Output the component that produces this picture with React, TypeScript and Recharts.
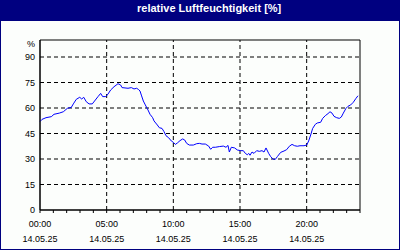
import { LineChart, Line, XAxis, YAxis, ReferenceLine, ReferenceArea } from "recharts";

const title = "relative Luftfeuchtigkeit [%]";
const dateLabel = "14.05.25";

// time of day in hours, relative humidity in %
const hours = [
  0, 0.15, 0.45, 0.85, 1.05, 1.45, 1.75, 2.05, 2.35, 2.5, 2.72, 2.98, 3.13, 3.28, 3.47, 3.68, 3.92,
  4.15, 4.35, 4.55, 4.7, 4.93, 5.1, 5.3, 5.55, 5.85, 6.05, 6.15, 6.6, 6.85, 7.05, 7.25, 7.4, 7.5,
  7.6, 7.75, 7.9, 8.1, 8.25, 8.45, 8.55, 8.8, 8.95, 9.15, 9.3, 9.45, 9.65, 9.85, 10.0, 10.15, 10.3,
  10.5, 10.7, 10.85, 11.0, 11.2, 11.5, 11.75, 11.95, 12.15, 12.4, 12.65, 12.8, 12.95, 13.15, 13.45,
  13.75, 13.95, 14.1, 14.2, 14.35, 14.6, 14.8, 15.05, 15.25, 15.4, 15.55, 15.65, 15.75, 15.9, 16.05,
  16.25, 16.45, 16.65, 16.8, 16.95, 17.15, 17.3, 17.5, 17.65, 17.8, 18.05, 18.3, 18.5, 18.7, 18.9,
  19.1, 19.3, 19.5, 19.8, 20.0, 20.15, 20.3, 20.45, 20.65, 20.8, 21.05, 21.2, 21.4, 21.6, 21.75,
  21.9, 22.05, 22.25, 22.45, 22.6, 22.75, 22.95, 23.1, 23.3, 23.5, 23.7, 23.85,
];
const humidity = [
  52, 53.3, 54.3, 54.9, 56.3, 57, 57.8, 59.8, 60.4, 62.4, 65.1, 66.3, 65.3, 66.3, 63.7, 62.4, 62.4,
  64.7, 66.7, 68.6, 66.7, 66.7, 68.2, 70.6, 72.5, 74.3, 73.5, 72, 71.6, 72, 71.2, 71.6, 70.8, 70,
  67.6, 64.1, 61.8, 58.8, 56.3, 54.3, 52.4, 50, 48.4, 48, 46.1, 43.7, 42.5, 40.6, 39.8, 38.6, 39.4,
  40.8, 41.8, 41.2, 39.2, 38.2, 38.2, 39, 39.2, 38.8, 38.8, 37.6, 35.7, 36.9, 36.9, 37.3,
  37.6, 36.9, 38, 34.1, 36.9, 36.5, 35.3, 34.9, 34.9, 33.3, 32.5, 33.3, 32.2, 34.1, 33.3,
  34.9, 34.5, 34.9, 34.1, 36.5, 33.3, 31.4, 29.8, 29.8, 31.4, 33.9, 34.7, 35.5, 37.5, 38.6,
  37.8, 37.5, 37.8, 37.8, 38.2, 40.6, 44.1, 48, 50.4, 51.2, 51.6, 53.9, 55.5, 56.7, 57.8,
  57, 55.1, 54.3, 53.9, 54.7, 57, 59.8, 61, 61.8, 63.4, 65.7, 67.2,
];

const yTicks = [0, 15, 30, 45, 60, 75, 90, 100];
const yGrid = [15, 30, 45, 60, 75, 90];
const xTicks = [0, 1, 2, 3, 4, 5, 6, 7, 8, 9, 10, 11, 12, 13, 14, 15, 16, 17, 18, 19, 20, 21, 22, 23, 24];
const xLabelHours = [0, 5, 10, 15, 20];
const xLabels = ["00:00", "05:00", "10:00", "15:00", "20:00"];
const xGrid = [5, 10, 15, 20];

const data = hours.map((h, i) => ({ h, rh: humidity[i] }));

const FONT = "'Liberation Sans', Arial, sans-serif";

function YTick({ x, y, payload }: any) {
  const v = payload.value;
  return (
    <text x={x} y={y} dy={v === 100 ? 7 : 3} textAnchor="end" fontSize={9} fontFamily={FONT} fill="#000">
      {v === 100 ? "%" : v}
    </text>
  );
}

function XTick({ x, y, payload }: any) {
  const idx = xLabelHours.indexOf(payload.value);
  if (idx < 0) return null;
  return (
    <text x={x} textAnchor="middle" fontSize={9} fontFamily={FONT} fill="#000">
      <tspan x={x} y={y + 14}>{xLabels[idx]}</tspan>
      <tspan x={x} y={y + 29}>{dateLabel}</tspan>
    </text>
  );
}

export default function App() {
  return (
    <div style={{ position: "relative", width: 400, height: 250, background: "#000080", overflow: "hidden" }}>
      <style>{"body{margin:0}"}</style>
      <div
        style={{
          position: "absolute",
          left: 137,
          top: 2,
          color: "#fff",
          fontFamily: FONT,
          fontWeight: "bold",
          fontSize: 11,
          whiteSpace: "nowrap",
        }}
      >
        {title}
      </div>
      <div style={{ position: "absolute", left: 1, top: 21, width: 398, height: 228, background: "#fcfefc" }} />
      <div style={{ position: "absolute", left: 0, top: 0 }}>
        <LineChart width={400} height={250} data={data} margin={{ top: 40, right: 40, bottom: 10, left: 0 }}>
          <XAxis
            dataKey="h"
            type="number"
            domain={[0, 24]}
            ticks={xTicks}
            interval={0}
            height={30}
            tickSize={3}
            tickMargin={0}
            tick={<XTick />}
            axisLine={{ stroke: "#000" }}
            tickLine={{ stroke: "#000" }}
          />
          <YAxis
            type="number"
            domain={[0, 100]}
            ticks={yTicks}
            interval={0}
            width={40}
            tickSize={0}
            tickMargin={5}
            tickLine={false}
            tick={<YTick />}
            axisLine={{ stroke: "#000" }}
          />
          {yGrid.map((v) => (
            <ReferenceLine key={"y" + v} y={v} stroke="#000" strokeDasharray="4 3" />
          ))}
          {xGrid.map((v) => (
            <ReferenceLine key={"x" + v} x={v} stroke="#000" strokeDasharray="4 3" />
          ))}
          <ReferenceArea x1={0} x2={24} y1={0} y2={100} fill="none" fillOpacity={0} stroke="#000" strokeOpacity={1} />
          <Line
            type="linear"
            dataKey="rh"
            stroke="#0000ff"
            strokeWidth={1}
            dot={false}
            isAnimationActive={false}
          />
        </LineChart>
      </div>
    </div>
  );
}
